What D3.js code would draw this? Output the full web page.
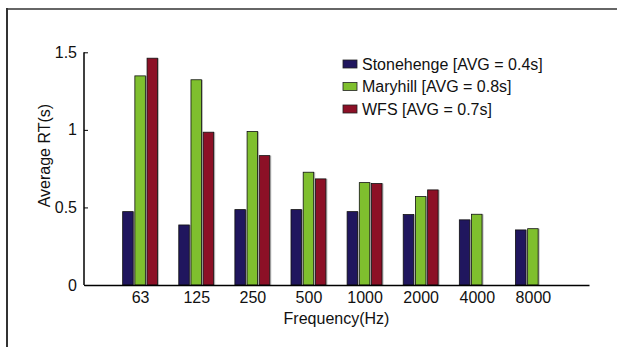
<!DOCTYPE html>
<html>
<head>
<meta charset="utf-8">
<script src="https://cdn.jsdelivr.net/npm/d3@7"></script>
<style>
  html, body { margin: 0; padding: 0; background: #fff; }
  svg { display: block; font-family: "Liberation Sans", Arial, sans-serif; }
</style>
</head>
<body>
<div id="chart"></div>
<script>
const categories = ['63', '125', '250', '500', '1000', '2000', '4000', '8000'];
const seriesNames = ['Stonehenge [AVG = 0.4s]', 'Maryhill [AVG = 0.8s]', 'WFS [AVG = 0.7s]'];
const stonehenge = [0.473, 0.387, 0.486, 0.486, 0.473, 0.454, 0.42, 0.355];
const maryhill = [1.348, 1.323, 0.989, 0.727, 0.66, 0.57, 0.456, 0.363];
const wfs = [1.462, 0.985, 0.834, 0.684, 0.654, 0.613, 0, 0];
const yTicks = [0, 0.5, 1, 1.5];

const colors = ['#20165e', '#7fbf2e', '#8c1026'];
const series = [stonehenge, maryhill, wfs];

const W = 617, H = 347;
const FS = 16;
const svg = d3.select('#chart').append('svg').attr('width', W).attr('height', H);

// frame around figure (runs off the right/bottom edge)
svg.append('line').attr('x1', 6).attr('x2', W).attr('y1', 9).attr('y2', 9)
  .attr('stroke', '#666').attr('stroke-width', 2);
svg.append('line').attr('x1', 7).attr('x2', 7).attr('y1', 8).attr('y2', H)
  .attr('stroke', '#333').attr('stroke-width', 2);

const x = d3.scaleLinear().domain([0, 9]).range([84, 589]);
const y = d3.scaleLinear().domain([0, 1.5]).range([285, 52.3]);

const pitch = 12.2, barW = 10.5;

series.forEach((vals, s) => {
  const off = (s - 1) * pitch - barW / 2;
  // gray side shading
  svg.selectAll('.shade' + s)
    .data(vals)
    .enter()
    .append('rect')
    .attr('x', (d, i) => x(i + 1) + off + barW - 0.5)
    .attr('y', d => y(d))
    .attr('width', 2)
    .attr('height', d => y(0) - y(d))
    .attr('fill', '#bbb');
  svg.selectAll('.bar' + s)
    .data(vals)
    .enter()
    .append('rect')
    .attr('x', (d, i) => x(i + 1) + off)
    .attr('y', d => y(d))
    .attr('width', barW)
    .attr('height', d => y(0) - y(d))
    .attr('fill', colors[s])
    .attr('stroke', '#111')
    .attr('stroke-width', 0.8);
});

// axes
const yAxis = d3.axisLeft(y).tickValues(yTicks).tickSize(-4).tickPadding(7)
  .tickFormat(d => d === 0 ? '0' : String(d));
const gy = svg.append('g').attr('transform', `translate(${x(0)},0)`).call(yAxis);
gy.select('.domain').attr('d', `M0,${y(1.5)}V${y(0)}`).attr('stroke', '#000').attr('stroke-width', 1.5);
gy.selectAll('.tick line').attr('stroke', '#000');
gy.selectAll('.tick text').attr('font-size', FS).attr('fill', '#111').attr('font-family', null);

const xAxis = d3.axisBottom(x).tickValues(d3.range(1, 9)).tickSize(0).tickPadding(7)
  .tickFormat(d => categories[d - 1]);
const gx = svg.append('g').attr('transform', `translate(0,${y(0)})`).call(xAxis);
gx.select('.domain').attr('stroke', '#000').attr('stroke-width', 1.5);
gx.selectAll('.tick text').attr('font-size', FS).attr('fill', '#111').attr('font-family', null);

svg.append('text')
  .attr('x', x(4.5)).attr('y', 324)
  .attr('text-anchor', 'middle')
  .attr('font-size', FS).attr('fill', '#111')
  .text('Frequency(Hz)');

svg.append('text')
  .attr('transform', `translate(44,${(y(0) + y(1.5)) / 2 - 13}) rotate(-90)`)
  .attr('text-anchor', 'middle')
  .attr('dy', '0.35em')
  .attr('font-size', FS).attr('fill', '#111')
  .text('Average RT(s)');

// legend
const legend = svg.selectAll('.legend')
  .data(seriesNames)
  .enter()
  .append('g')
  .attr('class', 'legend')
  .attr('transform', (d, i) => `translate(343,${64 + i * 22.5})`);

legend.append('rect')
  .attr('x', 0).attr('y', -4)
  .attr('width', 14).attr('height', 8)
  .attr('fill', (d, i) => colors[i])
  .attr('stroke', '#222').attr('stroke-width', 0.8);

legend.append('text')
  .attr('x', 19).attr('y', 0)
  .attr('dy', '0.35em')
  .attr('font-size', FS).attr('fill', '#111')
  .text(d => d);
</script>
</body>
</html>
